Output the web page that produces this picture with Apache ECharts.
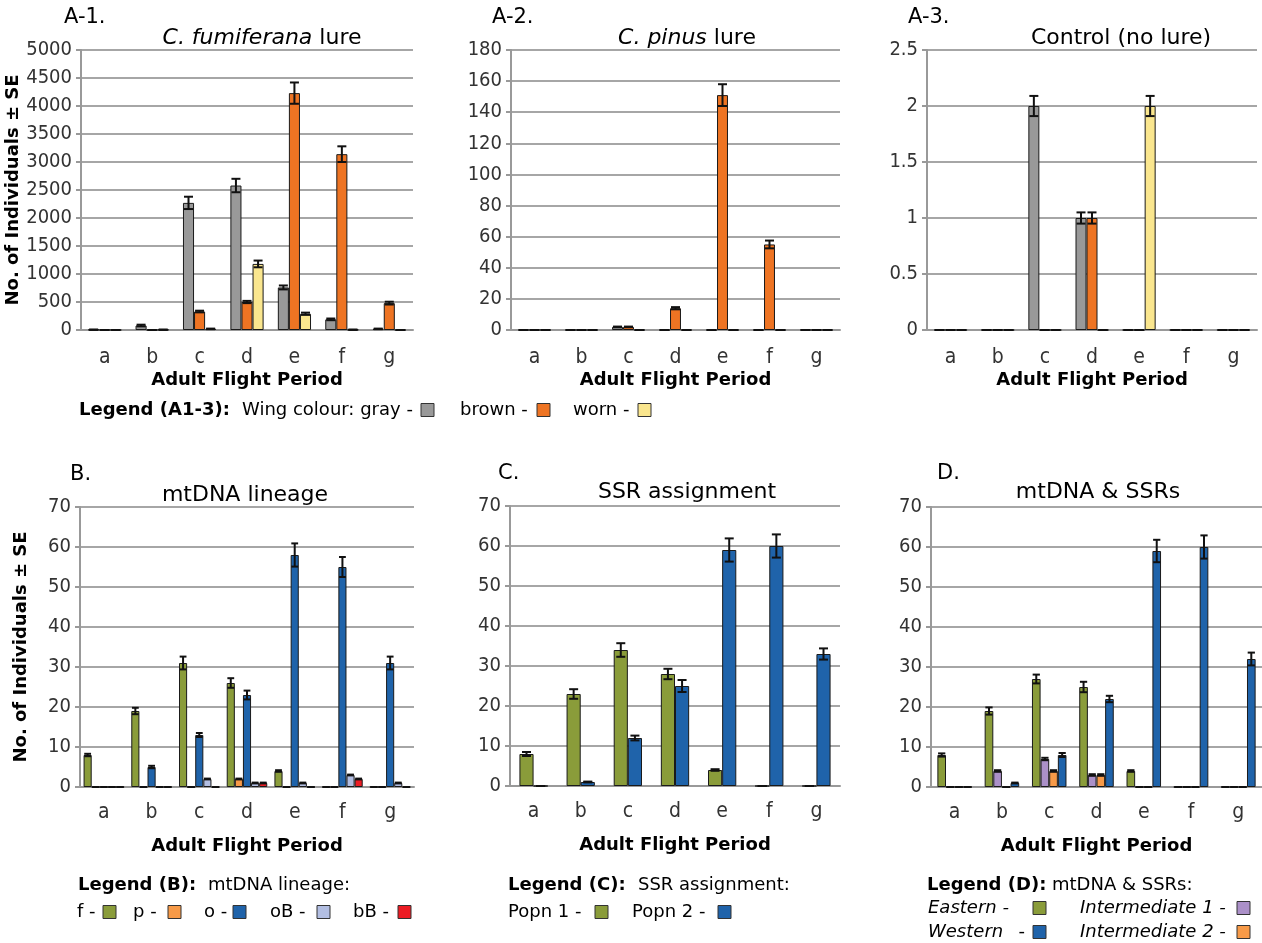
<!DOCTYPE html>
<html>
<head>
<meta charset="utf-8">
<title>Wing colour and lineage by adult flight period</title>
<script src="https://cdn.jsdelivr.net/npm/echarts@6/dist/echarts.min.js"></script>
<style>
  html, body { margin: 0; padding: 0; background: #fff; }
  #chart { width: 1262px; height: 943px; }
</style>
</head>
<body>
<div id="chart"></div>
<script>
// flight periods (x categories)
const periods = ['a', 'b', 'c', 'd', 'e', 'f', 'g'];

// A-1  C. fumiferana lure
const a1Gray = [5, 80, 2270, 2580, 760, 190, 20];
const a1GraySE = [3, 15, 110, 120, 35, 15, 5];
const a1Brown = [0, 0, 330, 500, 4230, 3140, 480];
const a1BrownSE = [0, 0, 15, 20, 190, 140, 25];
const a1Worn = [0, 5, 20, 1180, 290, 5, 0];
const a1WornSE = [0, 2, 5, 60, 20, 2, 0];

// A-2  C. pinus lure
const a2Gray = [0, 0, 2, 0, 0, 0, 0];
const a2GraySE = [0, 0, 0.2, 0, 0, 0, 0];
const a2Brown = [0, 0, 2, 14, 151, 55, 0];
const a2BrownSE = [0, 0, 0.2, 0.7, 7, 2.5, 0];
const a2Worn = [0, 0, 0, 0, 0, 0, 0];
const a2WornSE = [0, 0, 0, 0, 0, 0, 0];

// A-3  control
const a3Gray = [0, 0, 2, 1, 0, 0, 0];
const a3GraySE = [0, 0, 0.09, 0.05, 0, 0, 0];
const a3Brown = [0, 0, 0, 1, 0, 0, 0];
const a3BrownSE = [0, 0, 0, 0.05, 0, 0, 0];
const a3Worn = [0, 0, 0, 0, 2, 0, 0];
const a3WornSE = [0, 0, 0, 0, 0.09, 0, 0];

// B  mtDNA lineage
const bF = [8, 19, 31, 26, 4, 0, 0];
const bFSE = [0.3, 0.8, 1.6, 1.2, 0.2, 0, 0];
const bP = [0, 0, 0, 2, 0, 0, 0];
const bPSE = [0, 0, 0, 0.1, 0, 0, 0];
const bO = [0, 5, 13, 23, 58, 55, 31];
const bOSE = [0, 0.3, 0.5, 1.1, 2.9, 2.5, 1.6];
const bOB = [0, 0, 2, 1, 1, 3, 1];
const bOBSE = [0, 0, 0.1, 0.1, 0.1, 0.1, 0.1];
const bBB = [0, 0, 0, 1, 0, 2, 0];
const bBBSE = [0, 0, 0, 0.1, 0, 0.1, 0];

// C  SSR assignment
const cPop1 = [8, 23, 34, 28, 4, 0, 0];
const cPop1SE = [0.5, 1.2, 1.7, 1.3, 0.2, 0, 0];
const cPop2 = [0, 1, 12, 25, 59, 60, 33];
const cPop2SE = [0, 0.1, 0.6, 1.5, 2.9, 2.9, 1.4];

// D  mtDNA & SSRs
const dEast = [8, 19, 27, 25, 4, 0, 0];
const dEastSE = [0.4, 0.9, 1.1, 1.3, 0.2, 0, 0];
const dInt1 = [0, 4, 7, 3, 0, 0, 0];
const dInt1SE = [0, 0.2, 0.3, 0.2, 0, 0, 0];
const dInt2 = [0, 0, 4, 3, 0, 0, 0];
const dInt2SE = [0, 0, 0.2, 0.2, 0, 0, 0];
const dWest = [0, 1, 8, 22, 59, 60, 32];
const dWestSE = [0, 0.1, 0.5, 0.8, 2.8, 2.9, 1.6];

const colors = {
  gray: '#999999', brown: '#ee7423', worn: '#fae68e',
  green: '#8a9c3a', orange: '#f79a48', blue: '#1f63aa',
  lavender: '#b2bee2', red: '#ec1c24', purple: '#ab90c8'
};

const sans = '"DejaVu Sans", "Liberation Sans", sans-serif';
const narrow = '"Liberation Sans Narrow", "DejaVu Sans Condensed", "Roboto Condensed", "Liberation Sans", sans-serif';

const grids = [
  { left: 81, top: 50, width: 332, height: 280 },
  { left: 511, top: 50, width: 329, height: 280 },
  { left: 927, top: 50, width: 330, height: 280 },
  { left: 80, top: 507, width: 334, height: 280 },
  { left: 510, top: 506, width: 330, height: 280 },
  { left: 931, top: 507, width: 331, height: 280 }
];

// error bars drawn on top of the bars, shifted to each bar's slot
function errRenderer(n, gap) {
  return function (params, api) {
    const cat = api.value(0), val = api.value(1), se = api.value(2), k = api.value(3);
    const band = api.size([1, 0])[0];
    const bw = band * (1 - gap) / n;
    const x = api.coord([cat, val])[0] + (k - (n - 1) / 2) * bw;
    const yHi = api.coord([cat, val + se])[1];
    const yLo = api.coord([cat, val - se])[1];
    const half = Math.min(4.5, bw * 0.42);
    const st = { stroke: '#111', lineWidth: 2 };
    return {
      type: 'group',
      children: [
        { type: 'line', shape: { x1: x, y1: yHi, x2: x, y2: yLo }, style: st },
        { type: 'line', shape: { x1: x - half, y1: yHi, x2: x + half, y2: yHi }, style: st },
        { type: 'line', shape: { x1: x - half, y1: yLo, x2: x + half, y2: yLo }, style: st }
      ]
    };
  };
}

function barSeries(gi, name, data, color, gap) {
  return {
    type: 'bar', name: name, data: data,
    xAxisIndex: gi, yAxisIndex: gi,
    barGap: '0%', barCategoryGap: Math.round(gap * 100) + '%',
    itemStyle: { color: color, borderColor: '#1a1a1a', borderWidth: 1 }
  };
}

function errSeries(gi, list, gap) {
  const data = [];
  list.forEach(function (s, k) {
    s[0].forEach(function (v, i) { data.push([i, v, s[1][i], k]); });
  });
  return {
    type: 'custom', xAxisIndex: gi, yAxisIndex: gi, z: 5, silent: true,
    renderItem: errRenderer(list.length, gap),
    encode: { x: 0, y: 1 },
    data: data
  };
}

function xAx(gi, labelMargin, nameGap) {
  return {
    type: 'category', gridIndex: gi, data: periods,
    name: 'Adult Flight Period', nameLocation: 'middle', nameGap: nameGap,
    nameTextStyle: { fontFamily: sans, fontWeight: 'bold', fontSize: 18, color: '#000' },
    axisLine: { lineStyle: { color: '#999', width: 2 } },
    axisTick: { length: 6, lineStyle: { color: '#999', width: 2 } },
    axisLabel: { margin: labelMargin, fontFamily: narrow, fontSize: 21, color: '#333' }
  };
}

function yAx(gi, max, interval, withName) {
  const ax = {
    type: 'value', gridIndex: gi, min: 0, max: max, interval: interval,
    axisLine: { show: true, lineStyle: { color: '#999', width: 2 } },
    axisTick: { show: true, length: 5, lineStyle: { color: '#999', width: 2 } },
    splitLine: { lineStyle: { color: '#a6a6a6', width: 2 } },
    axisLabel: {
      margin: 9, fontFamily: narrow, fontSize: 20, color: '#333',
      formatter: function (v) { return String(v); }
    }
  };
  if (withName) {
    ax.name = 'No. of Individuals ± SE';
    ax.nameLocation = 'middle';
    ax.nameGap = withName;
    ax.nameTextStyle = { fontFamily: sans, fontWeight: 'bold', fontSize: 18, color: '#000' };
  }
  return ax;
}

const gapA = 0.30, gapB = 0.15, gapC = 0.40, gapD = 0.27;

const series = [
  barSeries(0, 'gray', a1Gray, colors.gray, gapA),
  barSeries(0, 'brown', a1Brown, colors.brown, gapA),
  barSeries(0, 'worn', a1Worn, colors.worn, gapA),
  errSeries(0, [[a1Gray, a1GraySE], [a1Brown, a1BrownSE], [a1Worn, a1WornSE]], gapA),

  barSeries(1, 'gray', a2Gray, colors.gray, gapA),
  barSeries(1, 'brown', a2Brown, colors.brown, gapA),
  barSeries(1, 'worn', a2Worn, colors.worn, gapA),
  errSeries(1, [[a2Gray, a2GraySE], [a2Brown, a2BrownSE], [a2Worn, a2WornSE]], gapA),

  barSeries(2, 'gray', a3Gray, colors.gray, gapA),
  barSeries(2, 'brown', a3Brown, colors.brown, gapA),
  barSeries(2, 'worn', a3Worn, colors.worn, gapA),
  errSeries(2, [[a3Gray, a3GraySE], [a3Brown, a3BrownSE], [a3Worn, a3WornSE]], gapA),

  barSeries(3, 'f', bF, colors.green, gapB),
  barSeries(3, 'p', bP, colors.orange, gapB),
  barSeries(3, 'o', bO, colors.blue, gapB),
  barSeries(3, 'oB', bOB, colors.lavender, gapB),
  barSeries(3, 'bB', bBB, colors.red, gapB),
  errSeries(3, [[bF, bFSE], [bP, bPSE], [bO, bOSE], [bOB, bOBSE], [bBB, bBBSE]], gapB),

  barSeries(4, 'Popn 1', cPop1, colors.green, gapC),
  barSeries(4, 'Popn 2', cPop2, colors.blue, gapC),
  errSeries(4, [[cPop1, cPop1SE], [cPop2, cPop2SE]], gapC),

  barSeries(5, 'Eastern', dEast, colors.green, gapD),
  barSeries(5, 'Intermediate 1', dInt1, colors.purple, gapD),
  barSeries(5, 'Intermediate 2', dInt2, colors.orange, gapD),
  barSeries(5, 'Western', dWest, colors.blue, gapD),
  errSeries(5, [[dEast, dEastSE], [dInt1, dInt1SE], [dInt2, dInt2SE], [dWest, dWestSE]], gapD)
];

function titleAt(text, x, y) {
  return {
    text: text, left: x, top: y, textAlign: 'center',
    textStyle: {
      fontFamily: sans, fontSize: 22, fontWeight: 'normal', color: '#000',
      rich: { i: { fontFamily: sans, fontSize: 22, fontStyle: 'italic', color: '#000' } }
    }
  };
}

// plain text and swatch helpers for the hand-laid legends
function txt(x, y, s, opt) {
  opt = opt || {};
  return {
    type: 'text', x: x, y: y,
    style: {
      text: s, fill: '#000', font: (opt.italic ? 'italic ' : '') + (opt.bold ? 'bold ' : '') + '18px ' + sans,
      textVerticalAlign: 'middle', textAlign: opt.align || 'left'
    }
  };
}
function box(x, y, color) {
  return {
    type: 'rect', shape: { x: x, y: y - 6.5, width: 13, height: 13 },
    style: { fill: color, stroke: '#333', lineWidth: 1 }
  };
}
function panelLabel(x, y, s) {
  return { type: 'text', x: x, y: y, style: { text: s, fill: '#000', font: '21px ' + sans, textVerticalAlign: 'middle' } };
}

const graphic = [
  panelLabel(64, 18, 'A-1.'), panelLabel(492, 18, 'A-2.'), panelLabel(908, 18, 'A-3.'),
  panelLabel(70, 475, 'B.'), panelLabel(498, 474, 'C.'), panelLabel(937, 474, 'D.'),

  txt(79, 410, 'Legend (A1-3):', { bold: true }),
  txt(242, 410, 'Wing colour: gray -'), box(421, 410, colors.gray),
  txt(460, 410, 'brown -'), box(537, 410, colors.brown),
  txt(573, 410, 'worn -'), box(638, 410, colors.worn),

  txt(78, 885, 'Legend (B):', { bold: true }), txt(208, 885, 'mtDNA lineage:'),
  txt(77, 912, 'f -'), box(103, 912, colors.green),
  txt(133, 912, 'p -'), box(168, 912, colors.orange),
  txt(204, 912, 'o -'), box(233, 912, colors.blue),
  txt(270, 912, 'oB -'), box(317, 912, colors.lavender),
  txt(353, 912, 'bB -'), box(398, 912, colors.red),

  txt(508, 885, 'Legend (C):', { bold: true }), txt(638, 885, 'SSR assignment:'),
  txt(508, 912, 'Popn 1 -'), box(595, 912, colors.green),
  txt(632, 912, 'Popn 2 -'), box(718, 912, colors.blue),

  txt(927, 885, 'Legend (D):', { bold: true }), txt(1052, 885, 'mtDNA & SSRs:'),
  txt(928, 908, 'Eastern -', { italic: true }), box(1033, 908, colors.green),
  txt(928, 932, 'Western', { italic: true }), txt(1025, 932, '-', { align: 'right' }), box(1033, 932, colors.blue),
  txt(1080, 908, 'Intermediate 1 -', { italic: true }), box(1237, 908, colors.purple),
  txt(1080, 932, 'Intermediate 2 -', { italic: true }), box(1237, 932, colors.orange)
];

const myChart = echarts.init(document.getElementById('chart'), null, { renderer: 'canvas' });
myChart.setOption({
  animation: false,
  backgroundColor: '#fff',
  title: [
    titleAt('{i|C. fumiferana} lure', 257, 22),
    titleAt('{i|C. pinus} lure', 682, 22),
    titleAt('Control (no lure)', 1116, 22),
    titleAt('mtDNA lineage', 240, 479),
    titleAt('SSR assignment', 682, 476),
    titleAt('mtDNA & SSRs', 1093, 476)
  ],
  grid: grids,
  xAxis: [xAx(0, 17, 41), xAx(1, 17, 41), xAx(2, 17, 41), xAx(3, 15, 50), xAx(4, 15, 50), xAx(5, 15, 50)],
  yAxis: [
    yAx(0, 5000, 500, 53), yAx(1, 180, 20), yAx(2, 2.5, 0.5),
    yAx(3, 70, 10, 50), yAx(4, 70, 10), yAx(5, 70, 10)
  ],
  series: series,
  graphic: graphic
});

window.onresize = function () {
  myChart.resize();
};
</script>
</body>
</html>
